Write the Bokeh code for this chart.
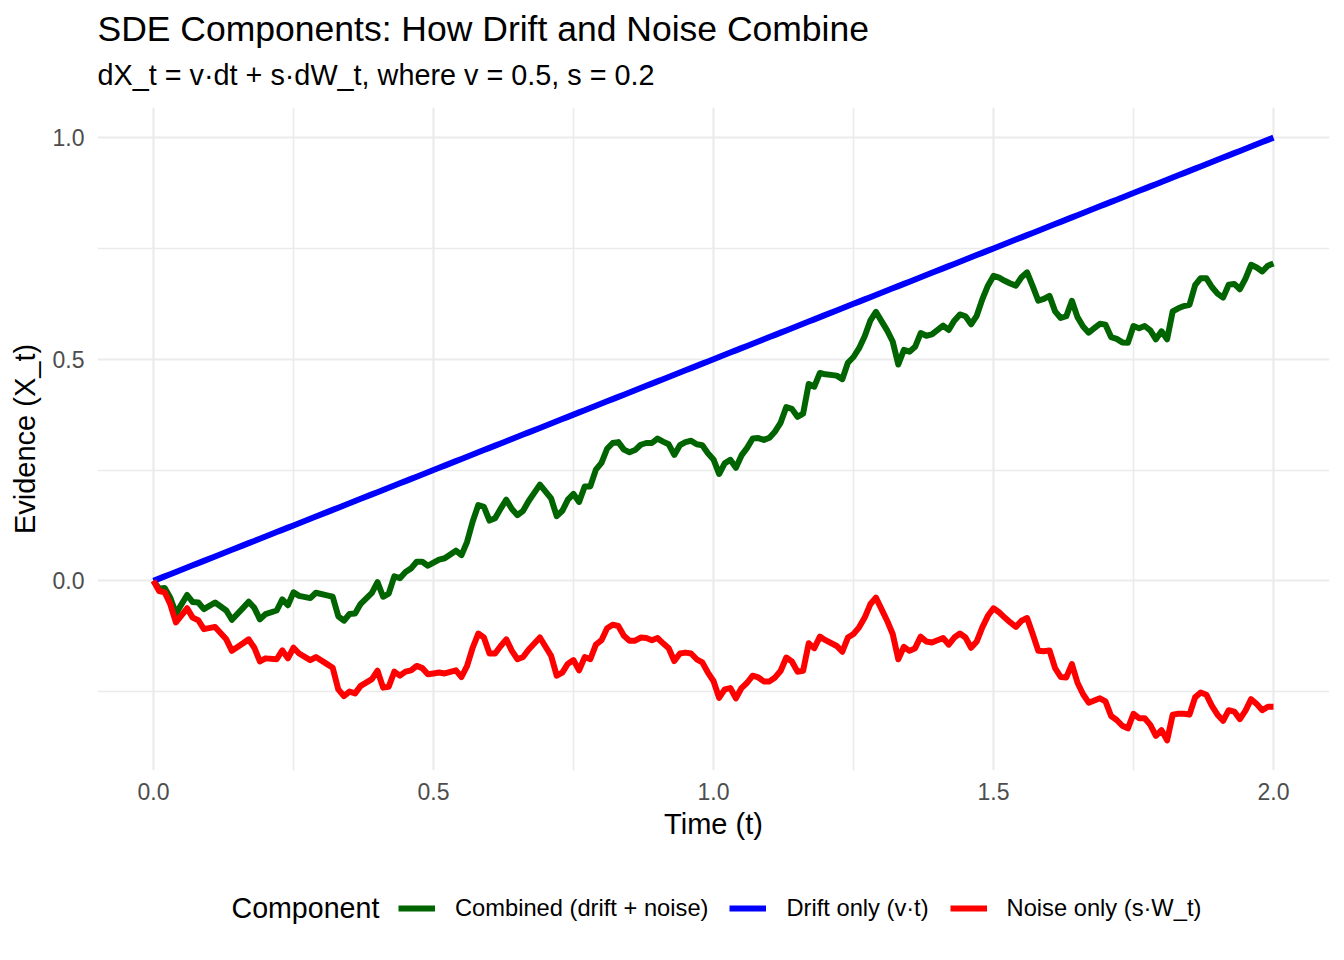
from bokeh.plotting import figure
from bokeh.layouts import column
from bokeh.models import Range1d, FixedTicker, Label, Legend, LegendItem, PrintfTickFormatter, ColumnDataSource
from bokeh.embed import file_html
from bokeh.resources import INLINE
from bokeh.core.properties import value

title_text = "SDE Components: How Drift and Noise Combine"
subtitle_text = "dX_t = v·dt + s·dW_t, where v = 0.5, s = 0.2"
x_label = "Time (t)"
y_label = "Evidence (X_t)"
legend_title = "Component"
series_names = ["Combined (drift + noise)", "Drift only (v·t)", "Noise only (s·W_t)"]
series_colors = ["#006400", "#0000FF", "#FF0000"]
x_ticks = [0.0, 0.5, 1.0, 1.5, 2.0]
y_ticks = [0.0, 0.5, 1.0]
drift_rate = 0.5  # v

time = [0.00, 0.01, 0.02, 0.03, 0.04, 0.06, 0.07, 0.08, 0.09, 0.11,
        0.13, 0.14, 0.16, 0.17, 0.18, 0.19, 0.20, 0.22, 0.23, 0.24,
        0.25, 0.26, 0.28, 0.29, 0.31, 0.32, 0.33, 0.34, 0.35, 0.36,
        0.37, 0.39, 0.40, 0.41, 0.42, 0.43, 0.44, 0.45, 0.46, 0.47,
        0.48, 0.49, 0.50, 0.51, 0.52, 0.54, 0.55, 0.56, 0.57, 0.58,
        0.59, 0.60, 0.61, 0.62, 0.63, 0.64, 0.65, 0.66, 0.67, 0.69,
        0.71, 0.72, 0.73, 0.74, 0.75, 0.76, 0.77, 0.78, 0.79, 0.80,
        0.81, 0.82, 0.83, 0.84, 0.85, 0.86, 0.87, 0.88, 0.89, 0.90,
        0.91, 0.92, 0.93, 0.94, 0.95, 0.96, 0.97, 0.98, 0.99, 1.00,
        1.01, 1.02, 1.03, 1.04, 1.05, 1.06, 1.07, 1.08, 1.09, 1.10,
        1.11, 1.12, 1.13, 1.14, 1.15, 1.16, 1.17, 1.18, 1.19, 1.20,
        1.22, 1.23, 1.24, 1.25, 1.26, 1.27, 1.28, 1.29, 1.30, 1.31,
        1.32, 1.33, 1.34, 1.35, 1.36, 1.37, 1.38, 1.39, 1.41, 1.42,
        1.43, 1.44, 1.45, 1.46, 1.47, 1.48, 1.49, 1.50, 1.51, 1.52,
        1.53, 1.54, 1.55, 1.56, 1.57, 1.58, 1.59, 1.60, 1.61, 1.62,
        1.63, 1.64, 1.65, 1.66, 1.67, 1.68, 1.69, 1.70, 1.71, 1.72,
        1.73, 1.74, 1.75, 1.76, 1.77, 1.78, 1.79, 1.80, 1.81, 1.82,
        1.83, 1.84, 1.85, 1.86, 1.87, 1.88, 1.89, 1.90, 1.91, 1.92,
        1.93, 1.94, 1.95, 1.96, 1.97, 1.98, 1.99, 2.00]

noise = [0.000, -0.023, -0.026, -0.053, -0.094, -0.062, -0.083, -0.089, -0.109, -0.104,
         -0.132, -0.158, -0.141, -0.132, -0.151, -0.182, -0.175, -0.177, -0.157, -0.175,
         -0.151, -0.164, -0.179, -0.172, -0.188, -0.196, -0.245, -0.260, -0.250, -0.254,
         -0.237, -0.222, -0.203, -0.241, -0.239, -0.205, -0.214, -0.205, -0.202, -0.192,
         -0.197, -0.211, -0.209, -0.207, -0.209, -0.202, -0.217, -0.192, -0.151, -0.119,
         -0.128, -0.164, -0.164, -0.147, -0.132, -0.158, -0.177, -0.172, -0.155, -0.128,
         -0.169, -0.214, -0.207, -0.187, -0.179, -0.202, -0.172, -0.177, -0.144, -0.134,
         -0.107, -0.099, -0.102, -0.124, -0.135, -0.135, -0.128, -0.129, -0.134, -0.129,
         -0.141, -0.152, -0.181, -0.164, -0.162, -0.164, -0.177, -0.184, -0.207, -0.226,
         -0.264, -0.245, -0.242, -0.265, -0.242, -0.230, -0.214, -0.218, -0.227, -0.227,
         -0.218, -0.203, -0.173, -0.182, -0.205, -0.203, -0.141, -0.152, -0.126, -0.134,
         -0.147, -0.160, -0.128, -0.120, -0.105, -0.083, -0.053, -0.038, -0.064, -0.090,
         -0.120, -0.177, -0.149, -0.158, -0.152, -0.126, -0.137, -0.139, -0.129, -0.144,
         -0.128, -0.119, -0.128, -0.151, -0.137, -0.105, -0.079, -0.062, -0.071, -0.083,
         -0.094, -0.104, -0.090, -0.084, -0.120, -0.158, -0.159, -0.157, -0.197, -0.217,
         -0.218, -0.188, -0.230, -0.256, -0.275, -0.270, -0.265, -0.272, -0.305, -0.314,
         -0.327, -0.333, -0.300, -0.310, -0.310, -0.325, -0.350, -0.337, -0.360, -0.302,
         -0.300, -0.300, -0.302, -0.263, -0.252, -0.257, -0.282, -0.302, -0.316, -0.292,
         -0.295, -0.312, -0.293, -0.267, -0.278, -0.292, -0.284, -0.284]

drift = [drift_rate * t for t in time]
combined = [d + n for d, n in zip(drift, noise)]

FONT = "Liberation Sans"
LW = 6
W = 1340
HT = 100            # title strip height (page y 0..100)
FL, FR, FT, FB = 97, 1329, 107, 770   # plot frame edges on the page
BB = 100            # main figure bottom border
HL = 80             # legend strip height
LEG_TOP = FB + BB   # page y where the legend strip starts
MID = 0.35          # baseline -> middle offset in em


def strip(height):
    # frame aligned with the main plot frame; data units = page pixels
    f = figure(width=W, height=height, x_range=Range1d(FL, FR), y_range=Range1d(0, height),
               output_backend="svg", toolbar_location=None, title=None,
               x_axis_location=None, y_axis_location=None,
               min_border_left=FL, min_border_right=W - FR, min_border_top=0, min_border_bottom=0)
    f.outline_line_color = None
    f.grid.visible = False
    f.background_fill_color = "white"
    f.border_fill_color = "white"
    return f


# ---- title strip ----
top = strip(HT)
top.add_layout(Label(x=FL, y=HT - (41 - MID * 35.5), text=title_text, text_font=FONT,
                     text_font_size="35.5px", text_color="black", text_baseline="middle",
                     text_align="left"))
top.add_layout(Label(x=FL, y=HT - (85 - MID * 29), text=subtitle_text, text_font=FONT,
                     text_font_size="28.8px", text_color="black", text_baseline="middle",
                     text_align="left"))

# ---- main plot ----
xlo, xhi = min(time), max(time)
xpad = 0.05 * (xhi - xlo)
all_y = drift + noise + combined
ylo, yhi = min(all_y), max(all_y)
ypad = 0.05 * (yhi - ylo)

p = figure(width=W, height=(FT - HT) + (FB - FT) + BB,
           x_range=Range1d(xlo - xpad, xhi + xpad), y_range=Range1d(ylo - ypad, yhi + ypad),
           output_backend="svg", toolbar_location=None, title=None,
           min_border_left=FL, min_border_right=W - FR,
           min_border_top=FT - HT, min_border_bottom=BB)
p.outline_line_color = None
p.background_fill_color = "white"
p.border_fill_color = "white"

xstep = x_ticks[1] - x_ticks[0]
ystep = y_ticks[1] - y_ticks[0]
x_minor = [t - xstep / 2 for t in x_ticks] + [x_ticks[-1] + xstep / 2]
y_minor = [t - ystep / 2 for t in y_ticks] + [y_ticks[-1] + ystep / 2]
p.xgrid.ticker = FixedTicker(ticks=x_ticks, minor_ticks=x_minor)
p.ygrid.ticker = FixedTicker(ticks=y_ticks, minor_ticks=y_minor)
for g in (p.xgrid, p.ygrid):
    g.grid_line_color = "#EBEBEB"
    g.grid_line_width = 2.2
    g.minor_grid_line_color = "#EBEBEB"
    g.minor_grid_line_width = 1.6

p.xaxis.ticker = FixedTicker(ticks=x_ticks)
p.yaxis.ticker = FixedTicker(ticks=y_ticks)
for ax in (p.xaxis, p.yaxis):
    ax.formatter = PrintfTickFormatter(format="%.1f")
    ax.axis_line_color = None
    ax.major_tick_line_color = None
    ax.minor_tick_line_color = None
    ax.major_tick_in = 0
    ax.major_tick_out = 0
    ax.major_label_text_font = FONT
    ax.major_label_text_font_size = "23px"
    ax.major_label_text_color = "#4D4D4D"
    ax.axis_label_text_font = FONT
    ax.axis_label_text_font_size = "29px"
    ax.axis_label_text_font_style = "normal"
    ax.axis_label_text_color = "black"
p.xaxis.axis_label = x_label
p.yaxis.axis_label = y_label
p.xaxis.major_label_standoff = 12
p.xaxis.axis_label_standoff = 5
p.yaxis.major_label_standoff = 13
p.yaxis.axis_label_standoff = 9

src = ColumnDataSource(dict(t=time, combined=combined, drift=drift, noise=noise))
cols = ["combined", "drift", "noise"]
for col, color in zip(cols, series_colors):
    p.line("t", col, source=src, line_color=color, line_width=LW, line_join="round")

# ---- legend strip (same series, out of view; only their legend keys show) ----
leg = strip(HL)
keys = []
for col, color in zip(cols, series_colors):
    keys.append(leg.line("t", col, source=src, line_color=color, line_width=LW))
legend = Legend(items=[LegendItem(label=value(n), renderers=[r]) for n, r in zip(series_names, keys)],
                orientation="horizontal", location=(398 - FL, HL - (908 - LEG_TOP) - 15),
                glyph_width=37, glyph_height=30, label_height=30, label_standoff=20, spacing=21,
                padding=0, margin=0, border_line_color=None, background_fill_alpha=0,
                label_text_font=FONT, label_text_font_size="23.7px", label_text_color="black",
                label_text_baseline="middle")
leg.add_layout(legend)
leg.add_layout(Label(x=231, y=HL - (918 - MID * 29 - LEG_TOP), text=legend_title, text_font=FONT,
                     text_font_size="28.6px", text_color="black", text_baseline="middle",
                     text_align="left"))

layout = column(top, p, leg, spacing=0)
open("out.html", "w").write(file_html(layout, INLINE))
